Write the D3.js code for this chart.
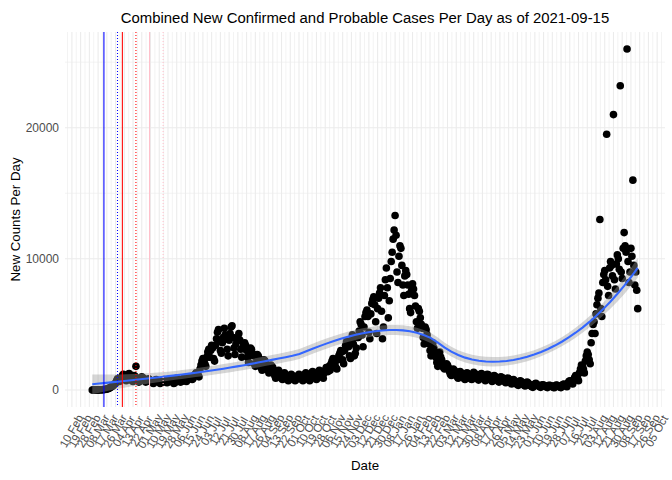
<!DOCTYPE html>
<html>
<head>
<meta charset="utf-8">
<script src="https://cdn.jsdelivr.net/npm/d3@7"></script>
<style>
  body { margin: 0; background: #fff; }
  text { font-family: "Liberation Sans", Arial, sans-serif; }
</style>
</head>
<body>
<div id="chart"></div>
<script>
// daily combined new confirmed + probable cases, one array per month
var mar2020 = [2,0,1,3,4,5,5,8,10,12,15,22,30,40,55,70,90,120,160,210,260,300,380,450,520,700,850,780,650,900];
var apr2020 = [900,1100,1200,1000,800,700,1050,1200,1250,1150,900,700,650,1100,1050,1800,900,750,600,700,900,1000,950,850,700,600,650,800,850,800];
var may2020 = [700,650,550,500,600,750,800,700,650,600,500,550,700,750,800,700,600,550,600,750,800,850,700,600,500,550,800,900,850,700,650];
var jun2020 = [600,650,800,900,850,700,650,800,900,1000,950,850,800,900,1100,1200,1300,1250,1150,1000,1600,1900,2200,2400,2300,2000,1800,2500,2900,3100];
var jul2020 = [2500,3000,3400,3200,2400,2200,3400,3900,4400,4600,3800,3000,2800,3600,4000,4700,4200,3900,3100,2600,3800,4300,4800,4900,4000,3200,2700,3500,3900,4000,4300];
var aug2020 = [3800,3100,2500,3200,3500,3600,3400,3000,2500,2100,2900,3200,3100,2800,2600,2000,1800,2500,2700,2600,2400,2100,1700,1500,2000,2300,2200,2000,1800,1500,1300];
var sep2020 = [1600,1900,1800,1700,1500,1100,900,1000,1400,1500,1300,1200,900,800,1100,1300,1200,1000,900,700,800,1000,1200,1100,1000,900,700,800,1000,1100];
var oct2020 = [1200,1100,900,800,700,1000,1200,1300,1100,1000,800,700,1100,1300,1400,1200,1100,900,800,1200,1400,1500,1300,1200,1000,900,1300,1500,1700,1600,1400];
var nov2020 = [1800,1500,2000,2200,2400,2300,2000,1700,1600,2300,2600,2800,3000,2900,2300,2000,3000,3400,3700,3600,3300,2600,2400,3800,4200,3500,2600,2800,3200,4000];
var dec2020 = [4000,4500,5200,5000,4200,3300,4800,5600,5900,6100,5600,4400,3900,5800,6600,6900,7100,6500,5200,4300,6200,7000,7400,7800,6000,3900,4800,7200,8400,9300,7800];
var jan2021 = [5500,6800,8500,9800,10500,11500,12200,13300,11800,9000,8200,10200,11000,10800,9500,8000,7200,8700,9100,8800,8000,7300,6200,5900,7600,8100,7700,7200,6400,5200,4700];
var feb2021 = [6200,6000,5500,5000,4700,4000,3500,4800,4600,4200,3800,3500,3000,2600,3400,3600,3200,2800,2500,2100,1800,2600,2900,2500,2300,2000,1700,1600];
var mar2021 = [1800,2000,1900,1700,1400,1200,1100,1500,1600,1500,1400,1200,1000,900,1300,1400,1300,1200,1100,900,800,1200,1300,1250,1150,1050,850,800,1200,1350,1250];
var apr2021 = [1200,1100,900,750,1000,1200,1250,1150,1000,850,700,1100,1200,1150,1050,950,750,650,1000,1100,1050,950,850,700,600,900,1000,950,900,750];
var may2021 = [650,550,800,900,850,700,550,450,750,800,700,600,500,400,350,650,700,650,550,450,350,300,550,600,550,450,350,300,250,200,350];
var jun2021 = [450,500,420,380,300,250,200,350,400,380,320,280,220,180,330,360,340,300,250,200,170,320,380,350,300,260,200,180,350,420];
var jul2021 = [450,400,300,250,500,650,700,650,550,450,800,950,1100,1050,900,700,1300,1600,1900,1800,1600,1300,2200,2600,2900,2700,2300,2000,3600,4300,5000];
var aug2021 = [5200,4300,5800,6500,7000,7400,13000,6200,5600,8200,8800,9100,8400,19500,7900,7200,9300,9800,9500,8700,21000,8400,7700,9600,10300,10000,9200,23200,9000,8500,10800];
var sep2021 = [12000,11000,10500,26000,9800,8200,9000,10800,10200,16000,9500,8000,9000,7600,6200];

var firstDay = "2020-03-02";
var eventDates = ["2020-03-14", "2020-04-02", "2020-04-30"];
var eventLagDates = ["2020-03-28", "2020-04-16", "2020-05-14"];
var yTicks = [0, 10000, 20000];
var yMinorTicks = [5000, 15000, 25000];
var firstBreak = "2020-02-10";
var breakStepDays = 9;

var width = 672, height = 480;
var panel = {left: 65, right: 665, top: 32, bottom: 407};

var parse = d3.utcParse("%Y-%m-%d");
var start = parse(firstDay);
var counts = [].concat(mar2020, apr2020, may2020, jun2020, jul2020, aug2020, sep2020, oct2020,
  nov2020, dec2020, jan2021, feb2021, mar2021, apr2021, may2021, jun2021, jul2021, aug2021, sep2021);

var data = counts.map((v, i) => ({date: d3.utcDay.offset(start, i), day: i, value: v}));
var nDays = data.length - 1;

// loess, degree 2, span 0.75, like geom_smooth's default
function loessRow(xs, x0, span) {
  var n = xs.length, q = Math.floor(n * span);
  var dist = xs.map(x => Math.abs(x - x0));
  var h = dist.slice().sort((a, b) => a - b)[q - 1];
  var w = dist.map(d => d < h ? Math.pow(1 - Math.pow(d / h, 3), 3) : 0);
  var s0 = 0, s1 = 0, s2 = 0, s3 = 0, s4 = 0;
  xs.forEach((x, i) => {
    var u = x - x0, wi = w[i];
    s0 += wi; s1 += wi * u; s2 += wi * u * u; s3 += wi * u * u * u; s4 += wi * u * u * u * u;
  });
  var c0 = s2 * s4 - s3 * s3, c1 = -(s1 * s4 - s3 * s2), c2 = s1 * s3 - s2 * s2;
  var det = s0 * c0 + s1 * c1 + s2 * c2;
  var v0 = c0 / det, v1 = c1 / det, v2 = c2 / det;
  return xs.map((x, i) => { var u = x - x0; return w[i] * (v0 + v1 * u + v2 * u * u); });
}

var xs = data.map(d => d.day / nDays);
var ys = data.map(d => d.value);

var rss = 0, trL = 0, sumL2 = 0;
xs.forEach((x0, k) => {
  var l = loessRow(xs, x0, 0.75);
  var fit = d3.sum(l, (li, i) => li * ys[i]);
  rss += (ys[k] - fit) * (ys[k] - fit);
  trL += l[k];
  sumL2 += d3.sum(l, li => li * li);
});
var oneDelta = xs.length - 2 * trL + sumL2;
var sigma = Math.sqrt(rss / oneDelta);

var smooth = d3.range(80).map(j => {
  var day = j / 79 * nDays;
  var l = loessRow(xs, day / nDays, 0.75);
  var fit = d3.sum(l, (li, i) => li * ys[i]);
  var se = sigma * Math.sqrt(d3.sum(l, li => li * li));
  return {date: new Date(+start + day * 864e5), fit: fit, lo: fit - 1.964 * se, hi: fit + 1.964 * se};
});

var end = data[nDays].date;
var pad = 0.05 * (end - start);
var x = d3.scaleUtc()
  .domain([new Date(+start - pad), new Date(+end + pad)])
  .range([panel.left, panel.right]);

var yLo = d3.min(ys), yHi = d3.max(ys);
var yPad = 0.05 * (yHi - yLo);
var y = d3.scaleLinear()
  .domain([yLo - yPad, yHi + yPad])
  .range([panel.bottom, panel.top]);

var svg = d3.select("#chart").append("svg")
  .attr("width", width)
  .attr("height", height);

// x breaks every 9 days, minor breaks halfway between
var breaks = [];
for (var t = parse(firstBreak); t <= x.domain()[1]; t = d3.utcDay.offset(t, breakStepDays)) breaks.push(t);
var minor = breaks.map(b => d3.utcHour.offset(b, -breakStepDays * 12));
minor.push(d3.utcHour.offset(breaks[breaks.length - 1], breakStepDays * 12));
minor = minor.filter(m => m >= x.domain()[0] && m <= x.domain()[1]);

var grid = svg.append("g").attr("class", "grid");

grid.selectAll("line.xminor")
  .data(minor)
  .enter().append("line")
  .attr("x1", d => x(d)).attr("x2", d => x(d))
  .attr("y1", panel.top).attr("y2", panel.bottom)
  .attr("stroke", "#EBEBEB").attr("stroke-width", 0.6);

grid.selectAll("line.yminor")
  .data(yMinorTicks.filter(v => y(v) >= panel.top))
  .enter().append("line")
  .attr("x1", panel.left).attr("x2", panel.right)
  .attr("y1", d => y(d)).attr("y2", d => y(d))
  .attr("stroke", "#EBEBEB").attr("stroke-width", 0.6);

grid.selectAll("line.xmajor")
  .data(breaks)
  .enter().append("line")
  .attr("x1", d => x(d)).attr("x2", d => x(d))
  .attr("y1", panel.top).attr("y2", panel.bottom)
  .attr("stroke", "#EBEBEB").attr("stroke-width", 1.07);

grid.selectAll("line.ymajor")
  .data(yTicks)
  .enter().append("line")
  .attr("x1", panel.left).attr("x2", panel.right)
  .attr("y1", d => y(d)).attr("y2", d => y(d))
  .attr("stroke", "#EBEBEB").attr("stroke-width", 1.07);

// points
svg.append("g")
  .selectAll("circle")
  .data(data)
  .enter().append("circle")
  .attr("cx", d => x(d.date))
  .attr("cy", d => y(d.value))
  .attr("r", 3.8)
  .attr("fill", "black");

// smooth band + line
svg.append("path")
  .datum(smooth)
  .attr("fill", "#999999")
  .attr("fill-opacity", 0.4)
  .attr("d", d3.area().x(d => x(d.date)).y0(d => y(d.lo)).y1(d => y(d.hi)));

svg.append("path")
  .datum(smooth)
  .attr("fill", "none")
  .attr("stroke", "#3366FF")
  .attr("stroke-width", 2.1)
  .attr("d", d3.line().x(d => x(d.date)).y(d => y(d.fit)));

// event lines
var eventColors = ["blue", "red", "pink"];
svg.append("g").selectAll("line")
  .data(eventDates)
  .enter().append("line")
  .attr("x1", d => x(parse(d))).attr("x2", d => x(parse(d)))
  .attr("y1", panel.top).attr("y2", panel.bottom)
  .attr("stroke", (d, i) => eventColors[i])
  .attr("stroke-width", 1.07);

svg.append("g").selectAll("line")
  .data(eventLagDates)
  .enter().append("line")
  .attr("x1", d => x(parse(d))).attr("x2", d => x(parse(d)))
  .attr("y1", panel.top).attr("y2", panel.bottom)
  .attr("stroke", (d, i) => eventColors[i])
  .attr("stroke-width", 1.07)
  .attr("stroke-dasharray", "1,2");

// axes
var fmt = d3.utcFormat("%d %b");
var xAxis = svg.append("g")
  .attr("transform", `translate(0,${panel.bottom})`)
  .call(d3.axisBottom(x).tickValues(breaks).tickFormat(fmt).tickSize(0))
  .call(g => g.select(".domain").remove());

xAxis.selectAll("text")
  .attr("y", 0)
  .attr("dy", null)
  .attr("transform", "translate(-1,24) rotate(-60)")
  .attr("text-anchor", "middle")
  .attr("dominant-baseline", "central")
  .attr("font-size", 11.5)
  .attr("font-family", "Liberation Sans, Arial, sans-serif")
  .attr("fill", "#4D4D4D");

var yAxis = svg.append("g")
  .attr("transform", `translate(${panel.left},0)`)
  .call(d3.axisLeft(y).tickValues(yTicks).tickFormat(d3.format("d")).tickSize(0).tickPadding(6))
  .call(g => g.select(".domain").remove());

yAxis.selectAll("text")
  .attr("font-size", 12)
  .attr("font-family", "Liberation Sans, Arial, sans-serif")
  .attr("fill", "#4D4D4D");

// titles
svg.append("text")
  .attr("x", (panel.left + panel.right) / 2)
  .attr("y", 23)
  .attr("text-anchor", "middle")
  .style("font-size", "14.9px")
  .text("Combined New Confirmed and Probable Cases Per Day as of 2021-09-15");

svg.append("text")
  .attr("x", (panel.left + panel.right) / 2)
  .attr("y", 470)
  .attr("text-anchor", "middle")
  .style("font-size", "13.3px")
  .text("Date");

svg.append("text")
  .attr("transform", `translate(15,${(panel.top + panel.bottom) / 2}) rotate(-90)`)
  .attr("text-anchor", "middle")
  .attr("dy", "0.35em")
  .style("font-size", "13.3px")
  .text("New Counts Per Day");
</script>
</body>
</html>
